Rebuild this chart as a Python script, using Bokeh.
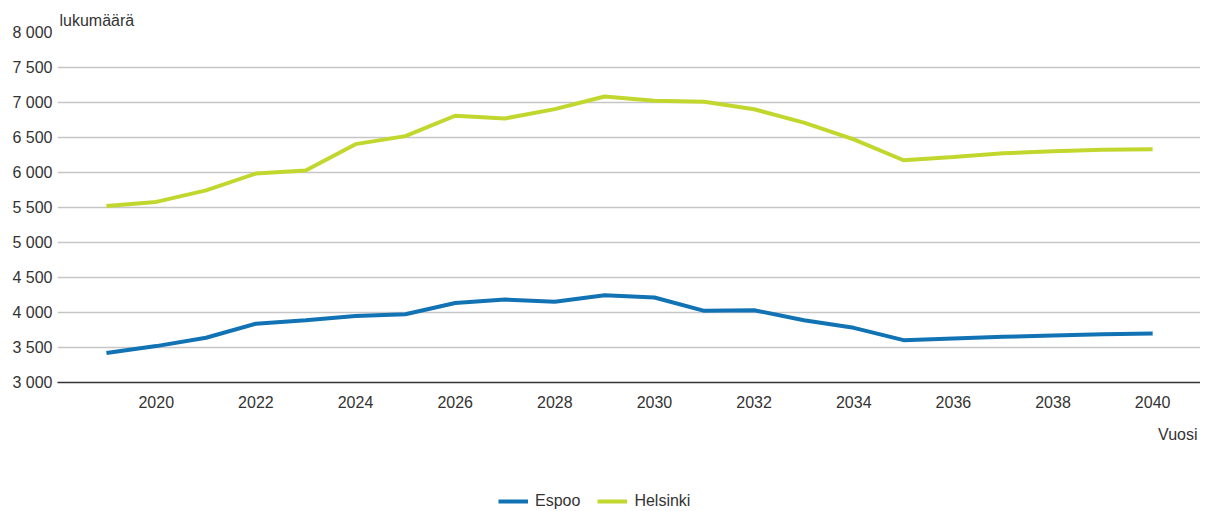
from bokeh.plotting import figure
from bokeh.models import FixedTicker, Legend, LegendItem, Title, Range1d
from bokeh.layouts import column
from bokeh.embed import file_html
from bokeh.resources import INLINE

years = list(range(2019, 2041))
espoo = [3420, 3520, 3640, 3840, 3890, 3950, 3975, 4135, 4185, 4155, 4245,
         4214, 4024, 4033, 3890, 3781, 3605, 3629, 3652, 3671, 3690, 3700]
helsinki = [5520, 5580, 5745, 5985, 6030, 6405, 6520, 6811, 6772, 6905, 7085,
            7024, 7010, 6904, 6713, 6474, 6175, 6222, 6275, 6304, 6325, 6332]

x_ticks = list(range(2020, 2041, 2))
y_ticks = [3000, 3500, 4000, 4500, 5000, 5500, 6000, 6500, 7000, 7500, 8000]
y_tick_labels = ["3 000", "3 500", "4 000", "4 500", "5 000", "5 500",
                 "6 000", "6 500", "7 000", "7 500", "8 000"]
series_names = ["Espoo", "Helsinki"]
series_colors = ["#1173b3", "#c2d72e"]
y_title = "lukumäärä"
x_title = "Vuosi"

FONT = "Liberation Sans"
TXT = "#333333"

p = figure(width=1200, height=470, output_backend="svg", toolbar_location=None,
           x_range=Range1d(2018.018, 2040.96), y_range=Range1d(3000, 8000),
           min_border_left=57, min_border_right=0, min_border_top=32,
           min_border_bottom=88)
p.outline_line_color = None
p.background_fill_color = "white"
p.border_fill_color = "white"

# axes
p.xaxis.ticker = FixedTicker(ticks=x_ticks)
p.xaxis.major_tick_line_color = None
p.xaxis.minor_tick_line_color = None
p.xaxis.major_tick_out = 0
p.xaxis.major_label_standoff = 13
p.xaxis.axis_line_color = "#333333"
p.xaxis.axis_line_width = 1.5
p.xaxis.major_label_text_font = FONT
p.xaxis.major_label_text_font_size = "16px"
p.xaxis.major_label_text_color = TXT

p.yaxis.ticker = FixedTicker(ticks=y_ticks)
p.yaxis.major_label_overrides = {t: l for t, l in zip(y_ticks, y_tick_labels)}
p.yaxis.axis_line_color = None
p.yaxis.major_tick_line_color = None
p.yaxis.minor_tick_line_color = None
p.yaxis.major_tick_out = 0
p.yaxis.major_label_standoff = 5
p.yaxis.major_label_text_font = FONT
p.yaxis.major_label_text_font_size = "16px"
p.yaxis.major_label_text_color = TXT

p.xgrid.grid_line_color = None
p.ygrid.ticker = FixedTicker(ticks=y_ticks[1:])
p.ygrid.grid_line_color = "#c6c6c6"
p.ygrid.grid_line_width = 1.5

r1 = p.line(years, espoo, line_color=series_colors[0], line_width=4)
r2 = p.line(years, helsinki, line_color=series_colors[1], line_width=4)

p.add_layout(Title(text=y_title, align="left", offset=2, standoff=8,
                   text_font=FONT, text_font_size="16px",
                   text_font_style="normal", text_color=TXT), "above")
p.add_layout(Title(text=x_title, align="right", offset=3, standoff=26,
                   text_font=FONT, text_font_size="16px",
                   text_font_style="normal", text_color=TXT), "below")

# legend strip below the chart (its series lie outside this strip's ranges)
leg = figure(width=1200, height=40, output_backend="svg", toolbar_location=None,
             x_axis_type=None, y_axis_type=None,
             x_range=Range1d(0, 1), y_range=Range1d(0, 1),
             min_border_left=0, min_border_right=0, min_border_top=0,
             min_border_bottom=0)
leg.outline_line_color = None
leg.grid.visible = False
l1 = leg.line(years, espoo, line_color=series_colors[0], line_width=4)
l2 = leg.line(years, helsinki, line_color=series_colors[1], line_width=4)
legend = Legend(items=[LegendItem(label=series_names[0], renderers=[l1]),
                       LegendItem(label=series_names[1], renderers=[l2])],
                orientation="horizontal", location=(441, 0),
                glyph_width=30, glyph_height=16, label_standoff=7, spacing=17,
                padding=0, margin=0, border_line_color=None,
                background_fill_alpha=0,
                label_text_font=FONT, label_text_font_size="16px",
                label_text_color=TXT)
leg.add_layout(legend, "center")

layout = column(p, leg, spacing=0)
open("out.html", "w").write(file_html(layout, INLINE))
